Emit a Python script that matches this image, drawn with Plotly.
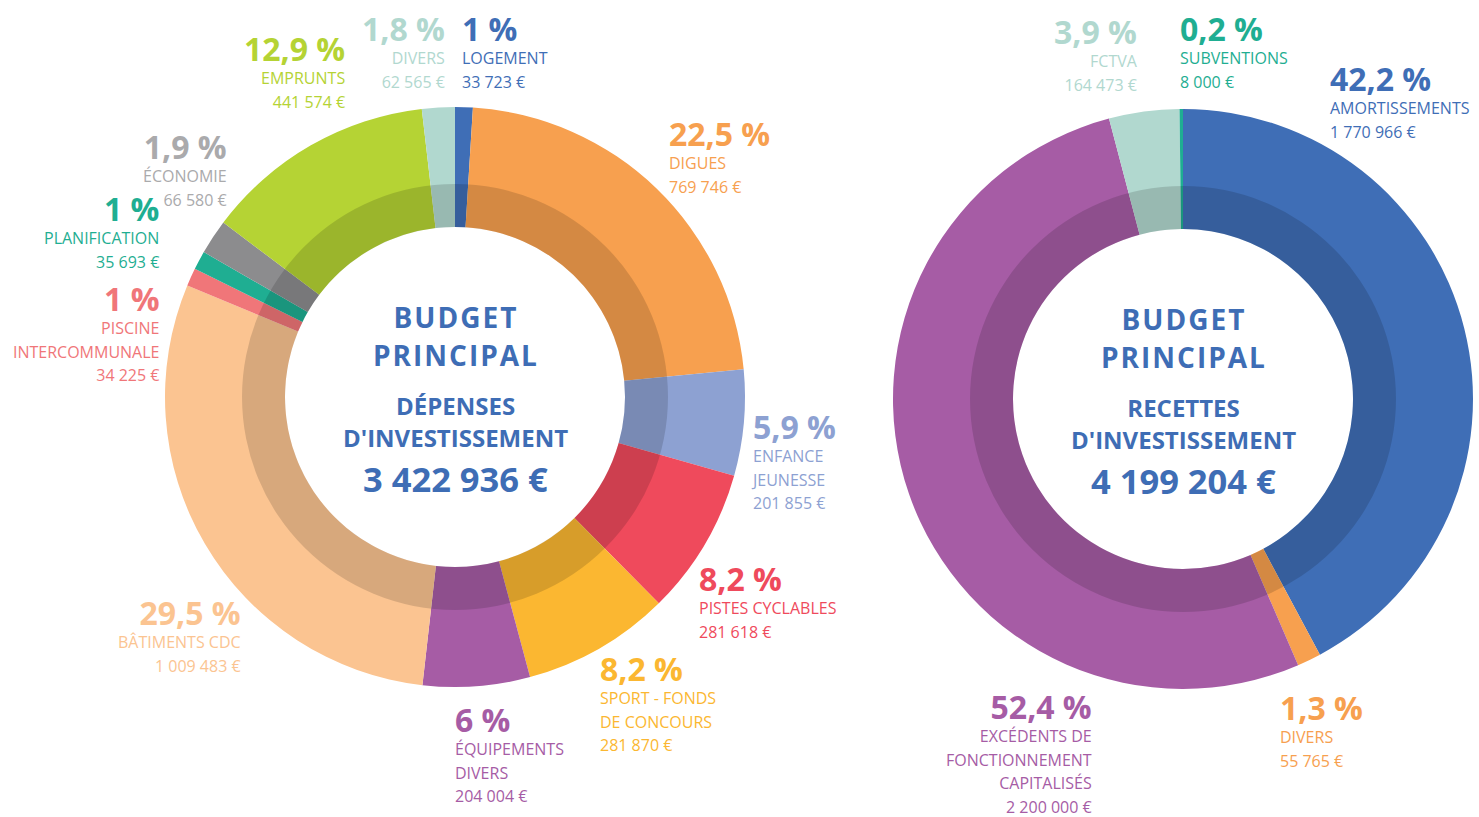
import plotly.graph_objects as go

# ---------------- DATA ----------------
dep_labels = ["LOGEMENT", "DIGUES", "ENFANCE\nJEUNESSE", "PISTES CYCLABLES",
              "SPORT - FONDS\nDE CONCOURS", "ÉQUIPEMENTS\nDIVERS", "BÂTIMENTS CDC",
              "PISCINE\nINTERCOMMUNALE", "PLANIFICATION", "ÉCONOMIE", "EMPRUNTS", "DIVERS"]
dep_values = [33723, 769746, 201855, 281618, 281870, 204004, 1009483,
              34225, 35693, 66580, 441574, 62565]
dep_colors = ["#3F6EB6", "#F7A04F", "#8DA1D2", "#EF4A5C", "#FBB731", "#A65CA5",
              "#FBC491", "#F07679", "#1FAE92", "#8C8C8E", "#B5D334", "#B1D8CF"]
dep_text_colors = ["#3F6EB6", "#F7A04F", "#8DA1D2", "#EF4A5C", "#FBB731", "#A65CA5",
                   "#FBC491", "#F07679", "#1FAE92", "#AAAAAC", "#B5D334", "#B1D8CF"]
dep_title = ["BUDGET", "PRINCIPAL", "DÉPENSES", "D'INVESTISSEMENT"]

rec_labels = ["AMORTISSEMENTS", "DIVERS", "EXCÉDENTS DE\nFONCTIONNEMENT\nCAPITALISÉS",
              "FCTVA", "SUBVENTIONS"]
rec_values = [1770966, 55765, 2200000, 164473, 8000]
rec_colors = ["#3F6EB6", "#F7A04F", "#A65CA5", "#B1D8CF", "#1FAE92"]
rec_text_colors = ["#3F6EB6", "#F7A04F", "#A65CA5", "#B1D8CF", "#1FAE92"]
rec_title = ["BUDGET", "PRINCIPAL", "RECETTES", "D'INVESTISSEMENT"]

# ---------------- LAYOUT HELPERS ----------------
W, H = 1479, 817
FONT = "Open Sans"
TITLE_COLOR = "#3E6DB5"
ASC = 1.069      # font ascent (em)
CAPC = 0.357     # cap-centre above baseline (em)


def px(x):
    return x / W


def py(y):
    return 1 - y / H


def fmt_eur(v):
    return f"{v:,}".replace(",", " ") + " €"


def fmt_pct(v, total):
    p = round(v / total * 100, 1)
    s = f"{p:.1f}".replace(".", ",")
    if s.endswith(",0"):
        s = s[:-2]
    return s + " %"


annotations = []


def add_block(x, y_center_first, lines, base_size, color, anchor, spacing=0):
    """lines: list of (text, size, bold). Line pitch = 1.3 * base_size."""
    parts = []
    for t, s, b in lines:
        t = f"<b>{t}</b>" if b else t
        st = f"font-size:{s}px"
        if spacing:
            st += f";letter-spacing:{spacing}px"
        parts.append(f"<span style='{st}'>{t}</span>")
    first_size = lines[0][1]
    y_top = y_center_first - (ASC - CAPC) * first_size
    annotations.append(dict(
        x=px(x), y=py(y_top), xref="paper", yref="paper", text="<br>".join(parts),
        showarrow=False, xanchor=anchor, yanchor="top", align=anchor,
        font=dict(family=FONT, size=base_size, color=color), borderpad=0, borderwidth=0))


def add_label(x, y0, anchor, pct, name, value, color):
    lines = [(pct, 32, True)] + [(l, 16, False) for l in name.split("\n")] + [(value, 16, False)]
    add_block(x, y0, lines, 18, color, anchor)


# label placements (x, anchor, y of percentage line centre)
dep_pos = [(462, "left", 30), (669, "left", 135), (751, "left", 428), (699, "left", 580),
           (600, "left", 670), (455, "left", 721), (241, "right", 614), (159, "right", 300),
           (159, "right", 210), (227, "right", 148), (345, "right", 50), (445, "right", 30)]
rec_pos = [(1330, "left", 80), (1280, "left", 709), (1092, "right", 708),
           (1138, "right", 33), (1180, "left", 30)]

fig = go.Figure()


def add_donut(cx, cy, values, colors, pos, labels, tcolors, title):
    r_out, r_dark, r_in = 290, 213, 170
    total = sum(values)
    fig.add_trace(go.Pie(
        values=values, labels=[l.replace("\n", " ") for l in labels],
        marker=dict(colors=colors, line=dict(width=0)),
        sort=False, direction="clockwise", rotation=0, hole=r_in / r_out,
        textinfo="none", hoverinfo="label+value+percent", showlegend=False,
        domain=dict(x=[px(cx - r_out), px(cx + r_out)],
                    y=[py(cy + r_out), py(cy - r_out)])))
    fig.add_trace(go.Pie(
        values=[1], labels=[" "], marker=dict(colors=["rgba(0,0,0,0.14)"], line=dict(width=0)),
        sort=False, hole=r_in / r_dark, textinfo="none", hoverinfo="skip", showlegend=False,
        domain=dict(x=[px(cx - r_dark), px(cx + r_dark)],
                    y=[py(cy + r_dark), py(cy - r_dark)])))
    for (x, anchor, y0), lab, v, c in zip(pos, labels, values, tcolors):
        add_label(x, y0, anchor, fmt_pct(v, total), lab, fmt_eur(v), c)
    add_block(cx + 1, cy - 79, [(title[0], 28, True), (title[1], 28, True)],
              37.5 / 1.3, TITLE_COLOR, "center", spacing=2)
    add_block(cx, cy + 9, [(title[2], 24, True), (title[3], 24, True)],
              32 / 1.3, TITLE_COLOR, "center")
    add_block(cx, cy + 83, [(fmt_eur(total), 34.5, True)], 34.5, TITLE_COLOR, "center")


add_donut(455, 397, dep_values, dep_colors, dep_pos, dep_labels, dep_text_colors, dep_title)
add_donut(1183, 399, rec_values, rec_colors, rec_pos, rec_labels, rec_text_colors, rec_title)

fig.update_layout(
    width=W, height=H, margin=dict(l=0, r=0, t=0, b=0),
    paper_bgcolor="white", plot_bgcolor="white",
    annotations=annotations, showlegend=False,
    font=dict(family=FONT))

fig.write_html("out.html", config={"displayModeBar": False},
               post_script="document.body.style.margin='0';document.body.style.overflow='hidden';")
